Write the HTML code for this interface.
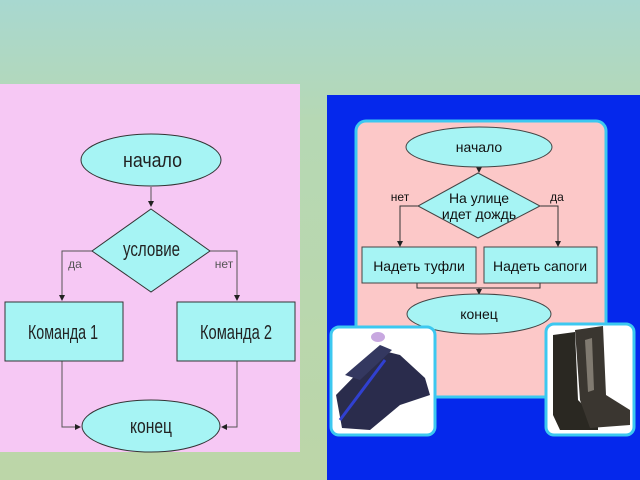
<!DOCTYPE html>
<html><head><meta charset="utf-8"><style>
html,body{margin:0;padding:0;width:640px;height:480px;overflow:hidden}
body{background:linear-gradient(180deg,#a8d8d0 0%,#b6d8b4 25%,#bcd6a8 100%);font-family:"Liberation Sans",sans-serif}
</style></head><body>
<svg width="640" height="480" viewBox="0 0 640 480" xmlns="http://www.w3.org/2000/svg" style="position:absolute;left:0;top:0">
<defs><marker id="a" markerWidth="6" markerHeight="6" refX="5" refY="3" orient="auto"><path d="M0,0 L6,3 L0,6z" fill="#222"/></marker></defs>
<rect x="0" y="84" width="300" height="368" fill="#f6c8f4"/>
<g stroke="#555" stroke-width="1" fill="none">
<line x1="151" y1="187" x2="151" y2="206" marker-end="url(#a)"/>
<polyline points="92,251 62,251 62,300" marker-end="url(#a)"/>
<polyline points="210,251 237,251 237,300" marker-end="url(#a)"/>
<polyline points="62,361 62,427 80,427" marker-end="url(#a)"/>
<polyline points="237,361 237,427 222,427" marker-end="url(#a)"/>
</g>
<g fill="#a6f4f4" stroke="#333" stroke-width="1">
<ellipse cx="151" cy="160" rx="70" ry="26"/>
<polygon points="151,209 210,251 151,292 92,251"/>
<rect x="5" y="302" width="118" height="59"/>
<rect x="177" y="302" width="118" height="59"/>
<ellipse cx="151" cy="426" rx="69" ry="26"/>
</g>
<g font-size="20" fill="#222" lengthAdjust="spacingAndGlyphs">
<text x="123" y="167" textLength="59" lengthAdjust="spacingAndGlyphs">начало</text>
<text x="123" y="256" textLength="57" lengthAdjust="spacingAndGlyphs">условие</text>
<text x="28" y="339" textLength="70" lengthAdjust="spacingAndGlyphs">Команда 1</text>
<text x="200" y="339" textLength="72" lengthAdjust="spacingAndGlyphs">Команда 2</text>
<text x="130" y="433" textLength="42" lengthAdjust="spacingAndGlyphs">конец</text>
</g>
<text x="75" y="268" font-size="12" fill="#555" text-anchor="middle">да</text>
<text x="224" y="268" font-size="12" fill="#555" text-anchor="middle">нет</text>

<rect x="327" y="95" width="313" height="385" fill="#0528ec"/>
<rect x="356" y="121" width="250" height="276" rx="10" fill="#fcc8c8" stroke="#3cc8f0" stroke-width="3"/>
<g stroke="#333" stroke-width="1" fill="none">
<line x1="479" y1="167" x2="479" y2="172" marker-end="url(#a)"/>
<polyline points="418,206 400,206 400,246" marker-end="url(#a)"/>
<polyline points="540,206 558,206 558,246" marker-end="url(#a)"/>
<polyline points="417,283 417,288 540,288 540,283"/>
<line x1="479" y1="288" x2="479" y2="294" marker-end="url(#a)"/>
</g>
<g fill="#a6f4f4" stroke="#444" stroke-width="1">
<ellipse cx="479" cy="147" rx="73" ry="20"/>
<polygon points="478,173 540,206 478,238 418,206"/>
<rect x="362" y="247" width="114" height="36"/>
<rect x="484" y="247" width="113" height="36"/>
<ellipse cx="479" cy="314" rx="72" ry="20"/>
</g>
<g font-size="14" text-anchor="middle" fill="#111">
<text x="479" y="152">начало</text>
<text x="479" y="203">На улице</text>
<text x="479" y="219">идет дождь</text>
<text x="419" y="271">Надеть туфли</text>
<text x="540" y="271">Надеть сапоги</text>
<text x="479" y="319">конец</text>
</g>
<text x="400" y="201" font-size="12" fill="#111" text-anchor="middle">нет</text>
<text x="557" y="201" font-size="12" fill="#111" text-anchor="middle">да</text>

<rect x="331" y="327" width="104" height="108" rx="8" fill="#fff" stroke="#3cc8f0" stroke-width="3"/>
<path d="M336,395 L380,350 L400,355 L425,378 L430,395 L400,405 L370,430 L342,428z" fill="#2a2c4c"/>
<path d="M345,375 L380,345 L392,350 L360,380z" fill="#343860"/>
<ellipse cx="378" cy="337" rx="7" ry="5" fill="#c8a8e0"/>
<path d="M340,420 L385,360" stroke="#3040d0" stroke-width="3"/>
<rect x="546" y="324" width="88" height="111" rx="8" fill="#fff" stroke="#3cc8f0" stroke-width="3"/>
<path d="M553,335 L575,332 L578,400 L598,420 L598,430 L560,430 L553,415z" fill="#2a2822"/>
<path d="M575,330 L603,326 L606,395 L630,410 L630,425 L590,428 L580,400z" fill="#3a3630"/>
<path d="M585,340 L592,338 L594,390 L588,392z" fill="#807a70"/>
</svg>
</body></html>
